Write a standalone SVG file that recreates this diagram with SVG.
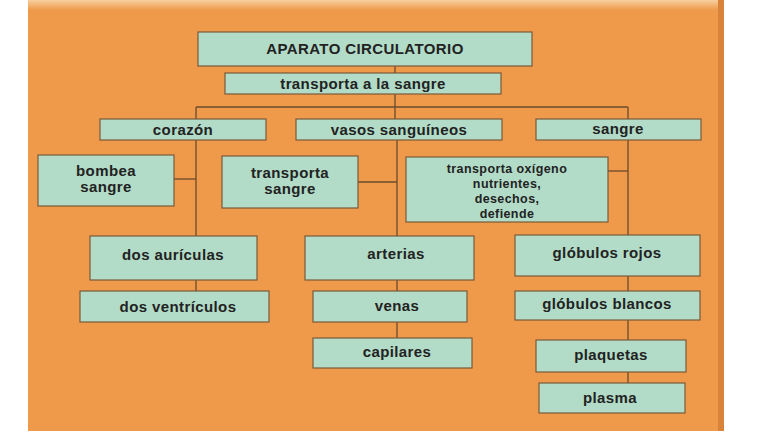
<svg xmlns="http://www.w3.org/2000/svg" width="768" height="433" viewBox="0 0 768 433">
<defs>
<linearGradient id="top" x1="0" y1="0" x2="0" y2="1"><stop offset="0" stop-color="#f7cfa0"/><stop offset="1" stop-color="#ef9a4a"/></linearGradient>
</defs>
<style>
.n rect{fill:#b2dcc8;stroke:#7a5a3a;stroke-width:1.2}
.n text{font-family:"Liberation Sans",Arial,sans-serif;font-weight:bold;font-size:15px;letter-spacing:0.4px;fill:#222;text-anchor:middle}
.n text.s{font-size:12.5px}
#c line{stroke:#6b4a2e;stroke-width:1.3}
</style>
<rect width="768" height="433" fill="#fff"/>
<rect x="28" y="0" width="696" height="431" fill="#ef9a4a"/>
<rect x="28" y="0" width="696" height="10" fill="url(#top)"/>
<rect x="718" y="0" width="6" height="431" fill="#d9833a"/>
<g id="c">
<line x1="395" y1="66" x2="395" y2="119"/>
<line x1="196" y1="107" x2="628" y2="107"/>
<line x1="196" y1="107" x2="196" y2="119"/>
<line x1="628" y1="107" x2="628" y2="119"/>
<line x1="196" y1="140" x2="196" y2="291"/>
<line x1="174" y1="179" x2="196" y2="179"/>
<line x1="397" y1="140" x2="397" y2="338"/>
<line x1="358" y1="182" x2="397" y2="182"/>
<line x1="628" y1="140" x2="628" y2="383"/>
<line x1="608" y1="171" x2="628" y2="171"/>
</g>
<g id="n1" class="n"><rect x="198" y="32" width="334" height="34"/><text x="365" y="54" font-size="16">APARATO CIRCULATORIO</text></g>
<g id="n2" class="n"><rect x="225" y="73" width="276" height="21"/><text x="363" y="89">transporta a la sangre</text></g>
<g id="n3" class="n"><rect x="100" y="119" width="166" height="21"/><text x="183" y="135">corazón</text></g>
<g id="n4" class="n"><rect x="296" y="119" width="206" height="21"/><text x="399" y="135">vasos sanguíneos</text></g>
<g id="n5" class="n"><rect x="536" y="119" width="165" height="21"/><text x="618" y="134">sangre</text></g>
<g id="n6" class="n"><rect x="38" y="155" width="136" height="51"/><text x="106" y="176">bombea</text><text x="106" y="192">sangre</text></g>
<g id="n7" class="n"><rect x="222" y="156" width="136" height="52"/><text x="290" y="178">transporta</text><text x="290" y="194">sangre</text></g>
<g id="n8" class="n"><rect x="406" y="157" width="202" height="65"/><text class="s" x="507" y="173" font-size="14">transporta oxígeno</text><text class="s" x="507" y="188">nutrientes,</text><text class="s" x="507" y="203">desechos,</text><text class="s" x="507" y="218">defiende</text></g>
<g id="n9" class="n"><rect x="90" y="236" width="167" height="44"/><text x="173" y="260">dos aurículas</text></g>
<g id="n10" class="n"><rect x="80" y="291" width="189" height="31"/><text x="178" y="312">dos ventrículos</text></g>
<g id="n11" class="n"><rect x="305" y="236" width="169" height="44"/><text x="396" y="259">arterias</text></g>
<g id="n12" class="n"><rect x="313" y="291" width="154" height="31"/><text x="397" y="311">venas</text></g>
<g id="n13" class="n"><rect x="313" y="338" width="159" height="30"/><text x="397" y="357">capilares</text></g>
<g id="n14" class="n"><rect x="515" y="235" width="185" height="41"/><text x="607" y="258">glóbulos rojos</text></g>
<g id="n15" class="n"><rect x="515" y="291" width="185" height="29"/><text x="607" y="309">glóbulos blancos</text></g>
<g id="n16" class="n"><rect x="536" y="340" width="150" height="32"/><text x="611" y="360">plaquetas</text></g>
<g id="n17" class="n"><rect x="539" y="383" width="146" height="30"/><text x="610" y="403">plasma</text></g>
</svg>
